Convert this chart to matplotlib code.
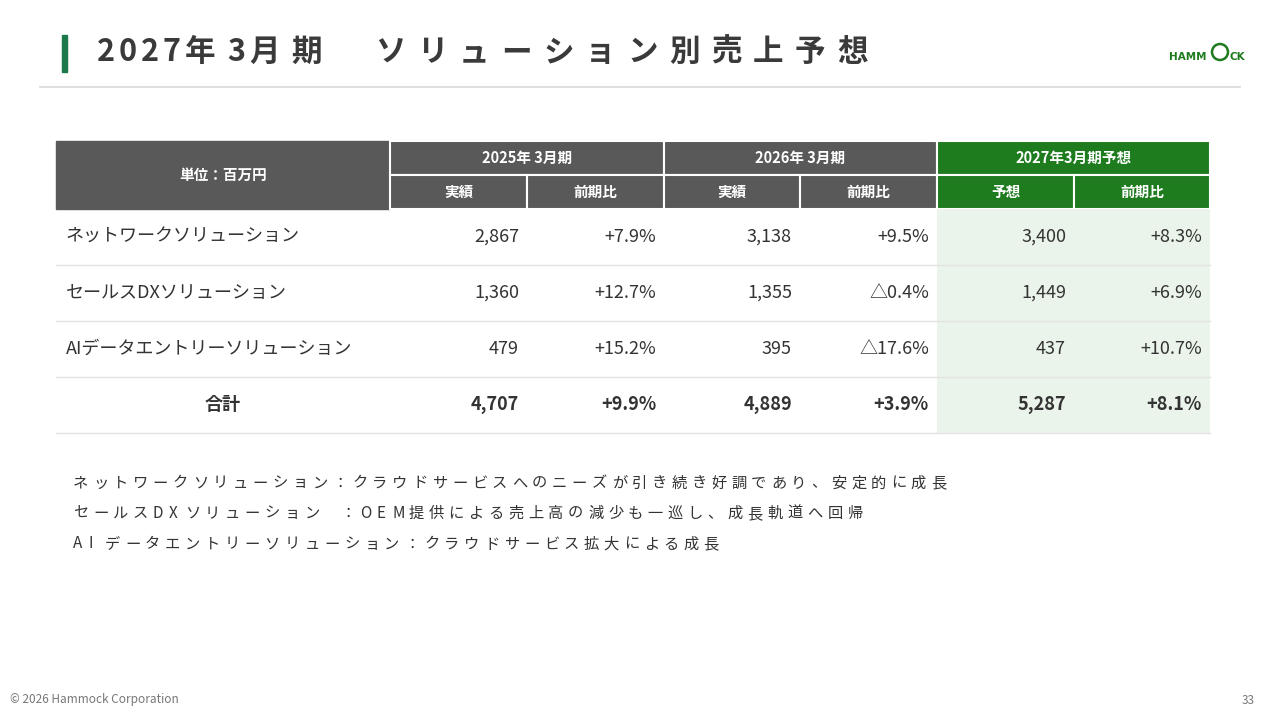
import matplotlib.pyplot as plt
from matplotlib.patches import Rectangle

plt.rcParams['font.family'] = ['Noto Sans CJK JP', 'DejaVu Sans']

title = '2027年3月期　ソリューション別売上予想'
groups = ['2025年 3月期', '2026年 3月期', '2027年3月期予想']
subs = ['実績', '前期比', '実績', '前期比', '予想', '前期比']
rows = ['ネットワークソリューション', 'セールスDXソリューション', 'AIデータエントリーソリューション', '合計']
sales25 = ['2,867', '1,360', '479', '4,707']
yoy25 = ['+7.9%', '+12.7%', '+15.2%', '+9.9%']
sales26 = ['3,138', '1,355', '395', '4,889']
yoy26 = ['+9.5%', '△0.4%', '△17.6%', '+3.9%']
sales27 = ['3,400', '1,449', '437', '5,287']
yoy27 = ['+8.3%', '+6.9%', '+10.7%', '+8.1%']
notes = ['ネットワークソリューション：クラウドサービスへのニーズが引き続き好調であり、安定的に成長',
         'セールスDXソリューション ：OEM提供による売上高の減少も一巡し、成長軌道へ回帰',
         'AIデータエントリーソリューション：クラウドサービス拡大による成長']

gray = '#595959'
green = '#1e7b1e'
light = '#eaf4ea'
txt = '#333333'


def spaced(ax, x, y, s, wide, narrow, **kw):
    for ch in s:
        ax.text(x, y, ch, va='center', **kw)
        x += narrow if ord(ch) < 128 else wide


fig = plt.figure(figsize=(12.8, 7.2), dpi=100)
ax = fig.add_axes([0, 0, 1, 1])
ax.set_xlim(0, 1280)
ax.set_ylim(720, 0)
ax.axis('off')

# header
ax.add_patch(Rectangle((62, 35), 5, 37, color='#1a7a4a'))
spaced(ax, 97, 52, title, 42, 22, fontsize=22, fontweight='bold', color='#3a3a3a')
ax.plot([40, 1240], [87, 87], color='#d9d9d9', lw=1.2)
ax.text(1207, 57, 'HAMM', fontsize=7.5, fontweight='bold', color=green, va='center', ha='right',
        family='DejaVu Sans')
ax.add_patch(plt.Circle((1220, 52), 8, fill=False, ec=green, lw=1.8))
ax.text(1229, 57, 'CK', fontsize=7.5, fontweight='bold', color=green, va='center', family='DejaVu Sans')

# table
xs = [56, 390, 527, 664, 800, 937, 1074, 1210]
h1, h2, h3 = 141, 175, 209
rh = 56

ax.add_patch(Rectangle((xs[0], h1), xs[1] - xs[0], h3 - h1, color=gray))
ax.text((xs[0] + xs[1]) / 2, (h1 + h3) / 2, '単位：百万円', color='white', fontsize=10.5,
        fontweight='bold', ha='center', va='center')
for g in range(3):
    c = green if g == 2 else gray
    x0, x1 = xs[1 + 2 * g], xs[3 + 2 * g]
    ax.add_patch(Rectangle((x0, h1), x1 - x0, h2 - h1, color=c, ec='white', lw=1.5))
    ax.text((x0 + x1) / 2, (h1 + h2) / 2, groups[g], color='white', fontsize=10.5,
            fontweight='bold', ha='center', va='center')
for i, s in enumerate(subs):
    c = green if i >= 4 else gray
    x0, x1 = xs[1 + i], xs[2 + i]
    ax.add_patch(Rectangle((x0, h2), x1 - x0, h3 - h2, color=c, ec='white', lw=1.5))
    ax.text((x0 + x1) / 2, (h2 + h3) / 2, s, color='white', fontsize=10.5,
            fontweight='bold', ha='center', va='center')

ax.add_patch(Rectangle((xs[5], h3), xs[7] - xs[5], rh * len(rows), color=light, lw=0))
cols = [sales25, yoy25, sales26, yoy26, sales27, yoy27]
for r, name in enumerate(rows):
    y0 = h3 + r * rh
    yc = y0 + rh / 2
    total = r == len(rows) - 1
    fw = 'bold' if total else 'normal'
    if total:
        ax.text((xs[0] + xs[1]) / 2, yc, name, fontsize=13, fontweight='bold', color=txt,
                ha='center', va='center')
    else:
        ax.text(xs[0] + 10, yc, name, fontsize=13, color=txt, va='center')
    for j, col in enumerate(cols):
        ax.text(xs[2 + j] - 8, yc, col[r], fontsize=13, fontweight=fw, color=txt,
                ha='right', va='center')
    ax.plot([xs[0], xs[-1]], [y0 + rh, y0 + rh], color='#e3e3e3', lw=1)

# notes with wide letter spacing
for k, line in enumerate(notes):
    spaced(ax, 73, 483 + k * 30.5, line, 19.95, 16, fontsize=11, color=txt)

ax.text(10, 700, '© 2026 Hammock Corporation', fontsize=8.5, color='#777777', va='center')
ax.text(1255, 700, '33', fontsize=8.5, color='#777777', va='center', ha='right')

fig.savefig('out.png', dpi=100)
